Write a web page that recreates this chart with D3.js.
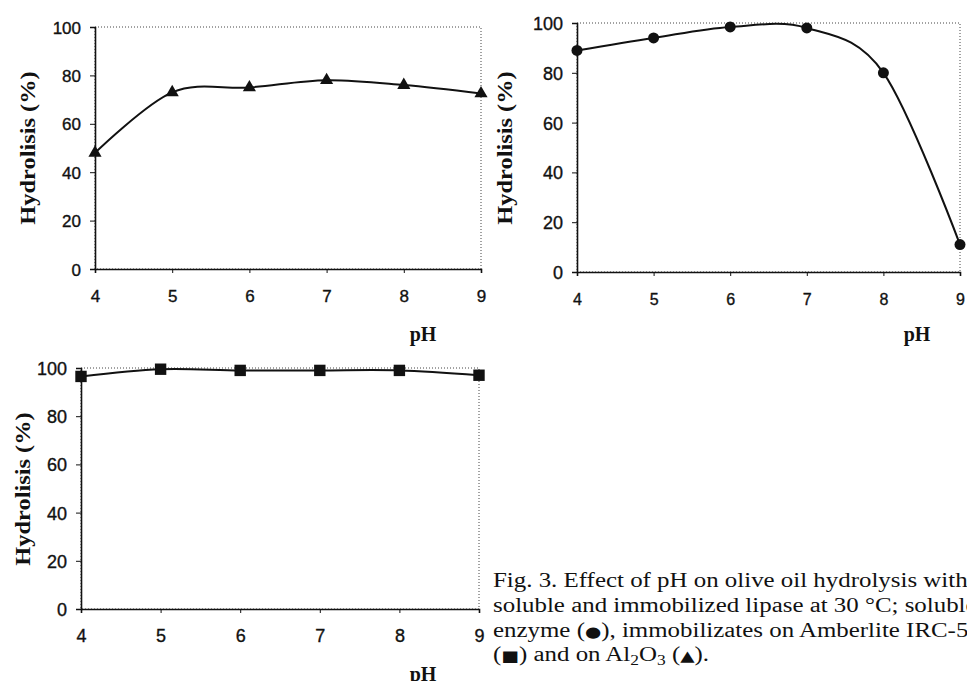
<!DOCTYPE html>
<html>
<head>
	<title> pH hydrolysis </title>
	<script src="https://d3js.org/d3.v7.min.js"></script>
	<style>
		body { margin: 0; background: #fff; overflow: hidden; }
	</style>
</head>
<body>
	<svg width="967" height="681"></svg>
	<script type="text/javascript">
		// values
		let phValues = [4, 5, 6, 7, 8, 9];
		let al2o3Values = [48, 73, 75, 78, 76, 72.5];
		let solubleValues = [89, 94, 98.4, 98, 80, 11];
		let amberliteValues = [96.5, 99.5, 99, 99, 99, 97];
		let yTicks = [0, 20, 40, 60, 80, 100];
		let yLabel = "Hydrolisis (%)";
		let xLabel = "pH";

		let svg = d3.select("svg");

		let panels = [
			{ values: al2o3Values, marker: "triangle", x0: 95, x1: 481, y0: 269, y1: 27,
			  yTickSize: 17, xTickSize: 17, labelX: 28, labelY: 148, phX: 423, phY: 341 },
			{ values: solubleValues, marker: "circle", x0: 577, x1: 960, y0: 272, y1: 23,
			  yTickSize: 18, xTickSize: 16, labelX: 505, labelY: 148, phX: 917, phY: 341 },
			{ values: amberliteValues, marker: "square", x0: 81, x1: 479, y0: 609, y1: 368,
			  yTickSize: 18, xTickSize: 18, labelX: 23, labelY: 489, phX: 423, phY: 681 }
		];

		function style_ticks(a, size)
		{
			a.select(".domain").attr("stroke", "#111").attr("stroke-width", 1.6);
			a.selectAll(".tick line").attr("stroke", "#111").attr("stroke-width", 1);
			a.selectAll(".tick text")
				.attr("fill", "#111")
				.attr("stroke", "#111")
				.attr("stroke-width", 0.35)
				.style("font-family", "'Liberation Sans', Arial, sans-serif")
				.style("font-size", size + "px");
		}

		function draw_panel(p)
		{
			let x = d3.scaleLinear().domain([4, 9]).range([p.x0, p.x1]);
			let y = d3.scaleLinear().domain([0, 100]).range([p.y0, p.y1]);
			let g = svg.append("g");

			// dotted plot area border
			g.append("rect")
				.attr("x", x(4)).attr("y", y(100))
				.attr("width", x(9) - x(4)).attr("height", y(0) - y(100))
				.attr("fill", "none")
				.attr("stroke", "#444")
				.attr("stroke-width", 1)
				.attr("stroke-dasharray", "1,2");

			let yAxis = d3.axisLeft(y).tickValues(yTicks).tickSize(5).tickPadding(9);
			let ga = g.append("g").attr("transform", "translate(" + x(4) + ",0)").call(yAxis);
			let pad = 33 - 4 - 0.71 * p.xTickSize;
			let xAxis = d3.axisBottom(x).tickValues(phValues).tickSize(4).tickPadding(pad).tickFormat(d3.format("d"));
			let gx = g.append("g").attr("transform", "translate(0," + y(0) + ")").call(xAxis);
			style_ticks(ga, p.yTickSize);
			style_ticks(gx, p.xTickSize);
			ga.selectAll(".tick text").attr("dy", "0.36em");

			// line
			g.append("path")
				.datum(p.values)
				.attr("fill", "none")
				.attr("stroke", "#111")
				.attr("stroke-width", 2)
				.attr("d", d3.line()
					.x((d, i) => x(phValues[i]))
					.y(d => y(d))
					.curve(d3.curveCardinal.tension(0)));

			// markers
			let sym = { triangle: d3.symbolTriangle, circle: d3.symbolCircle, square: d3.symbolSquare }[p.marker];
			let size = { triangle: 75, circle: 95, square: 130 }[p.marker];
			g.selectAll(".mk")
				.data(p.values)
				.enter()
				.append("path")
				.attr("class", "mk")
				.attr("transform", (d, i) => "translate(" + x(phValues[i]) + "," + y(d) + ")")
				.attr("d", d3.symbol().type(sym).size(size))
				.attr("fill", "#111");

			g.append("text")
				.attr("transform", "translate(" + p.labelX + "," + p.labelY + ") rotate(-90) scale(1.22,1)")
				.attr("text-anchor", "middle")
				.attr("dy", "0.35em")
				.style("font-family", "'Liberation Serif', 'Times New Roman', serif")
				.style("font-weight", "bold")
				.style("font-size", "20px")
				.attr("fill", "#111")
				.text(yLabel);

			g.append("text")
				.attr("x", p.phX).attr("y", p.phY)
				.attr("text-anchor", "middle")
				.style("font-family", "'Liberation Serif', 'Times New Roman', serif")
				.style("font-weight", "bold")
				.style("font-size", "20px")
				.attr("fill", "#111")
				.text(xLabel);
		}

		panels.forEach(draw_panel);

		// caption, the scanned type is wide so it is stretched horizontally
		let cap = svg.append("text")
			.attr("transform", "translate(493,0) scale(1.245,1)")
			.style("font-family", "'Liberation Serif', 'Times New Roman', serif")
			.style("font-size", "20px")
			.attr("fill", "#111");
		let baselines = [587, 612, 637, 661];
		function sym_span(ch)
		{
			cap.append("tspan").style("font-family", "'DejaVu Sans', sans-serif").style("font-size", "15px").text(ch);
		}
		cap.append("tspan").attr("x", 0).attr("y", baselines[0]).text("Fig. 3. Effect of pH on olive oil hydrolysis with");
		cap.append("tspan").attr("x", 0).attr("y", baselines[1]).text("soluble and immobilized lipase at 30 \u00B0C; soluble");
		cap.append("tspan").attr("x", 0).attr("y", baselines[2]).text("enzyme (");
		sym_span("\u25CF");
		cap.append("tspan").text("), immobilizates on Amberlite IRC-50");
		cap.append("tspan").attr("x", 0).attr("y", baselines[3]).text("(");
		sym_span("\u25A0");
		cap.append("tspan").text(") and on Al");
		cap.append("tspan").attr("dy", 4).style("font-size", "14px").text("2");
		cap.append("tspan").attr("dy", -4).text("O");
		cap.append("tspan").attr("dy", 4).style("font-size", "14px").text("3");
		cap.append("tspan").attr("dy", -4).text(" (");
		sym_span("\u25B2");
		cap.append("tspan").text(").");
	</script>
</body>
</html>
